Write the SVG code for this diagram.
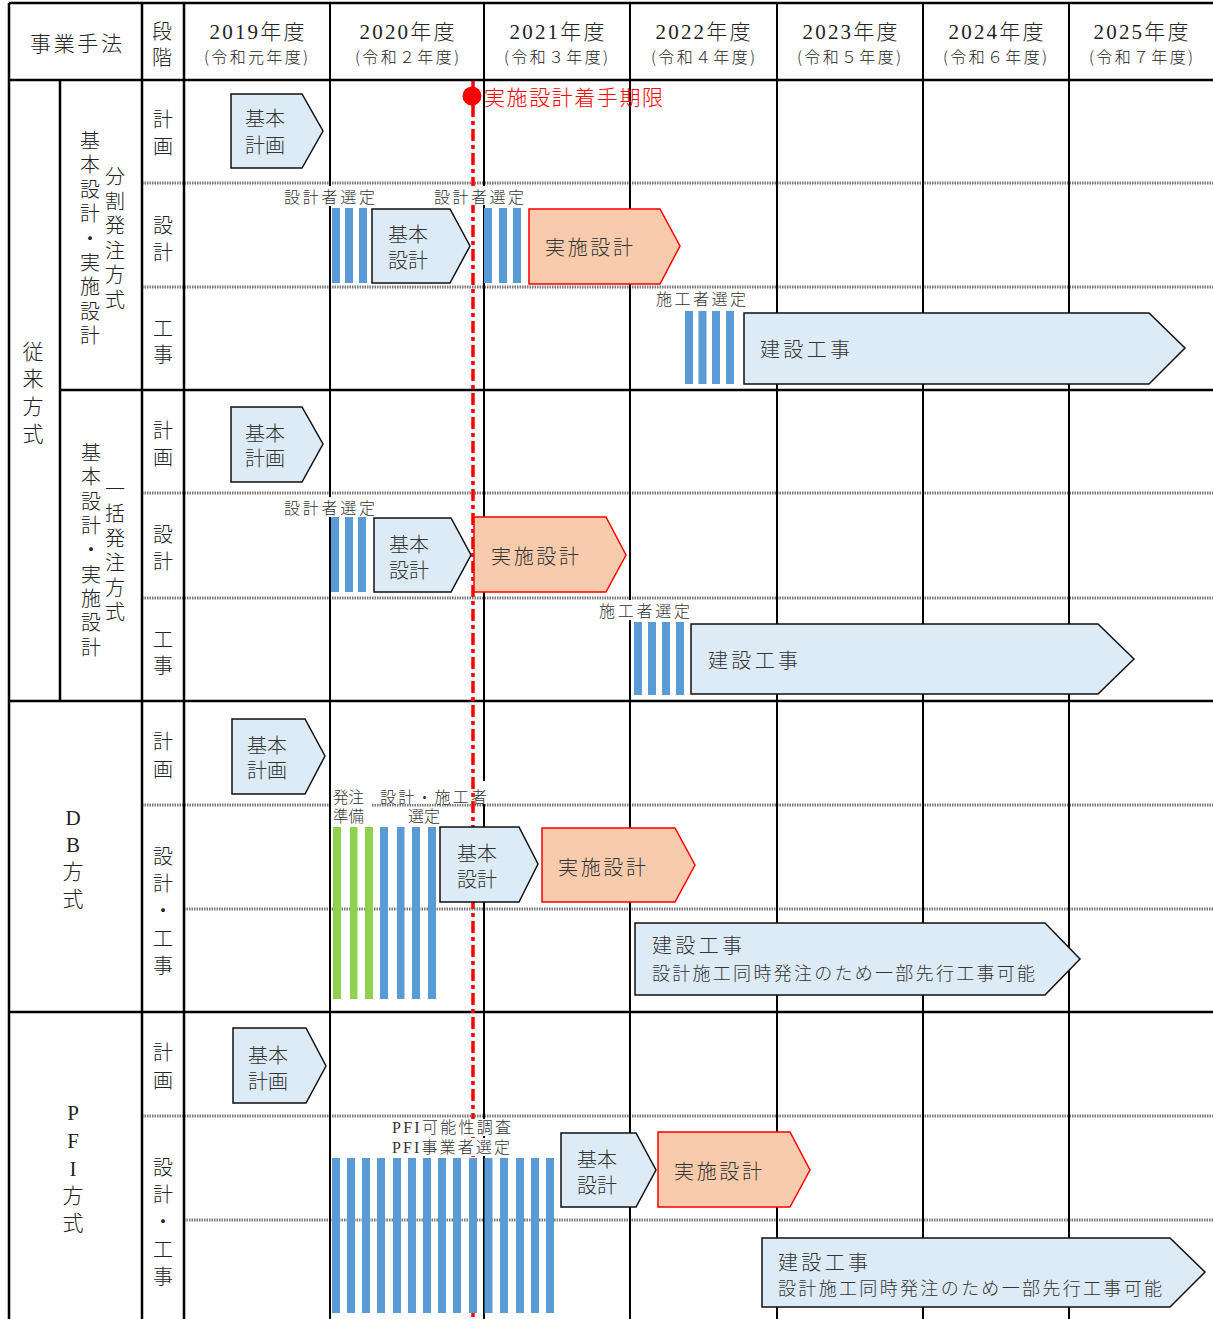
<svg xmlns="http://www.w3.org/2000/svg" width="1213" height="1319" viewBox="0 0 1213 1319">
<style>
text{font-family:"Noto Sans CJK JP","Noto Sans CJK SC",sans-serif;fill:#222;dominant-baseline:central;font-weight:300}
tspan{dominant-baseline:central}
.se{font-family:"Liberation Serif","Noto Sans CJK JP",serif}
.hy{font-size:21px;text-anchor:middle}
.hs{font-size:16px;text-anchor:middle}
.v{font-size:20px;text-anchor:middle}
.lab{font-size:16px;fill:#333}
.bt{font-size:20px;fill:#333}
.st{font-size:18px;fill:#333}
.g{stroke:#000;stroke-width:2.5;fill:none}
.gt{stroke:#000;stroke-width:2;fill:none}
.dt{stroke:#7a7a7a;stroke-width:3;stroke-dasharray:1.5 1;fill:none}
.box{fill:#DDEBF7;stroke:#111;stroke-width:1.5}
.jis{fill:#F8CBAD;stroke:#FF0000;stroke-width:1.5}
.bb{fill:#5B9BD5}
.bg{fill:#92D050}
.wb{fill:#fff}
.red{stroke:#FF0000;stroke-width:3.5;stroke-dasharray:12 4 4 4;fill:none}
</style>
<rect width="1213" height="1319" fill="#fff"/>

<g id="grid">
  <path class="dt" d="M142 183H1213M142 287H1213M142 493H1213M142 598H1213M142 805H1213M184 909H1213M142 1116H1213M184 1220H1213"/>
  <path class="gt" d="M330 3V1319M484 3V1319M630 3V1319M777 3V1319M923 3V1319M1069 3V1319"/>
  <path class="g" d="M142 3V1319M184 3V1319M60 80V701M60 390H1213M9 701H1213M9 1012H1213"/>
  <path class="g" stroke-width="3" d="M9 3V1319M9 3H1213M9 80H1213"/>
</g>

<g id="header">
  <text x="76" y="42" style="font-size:21px;text-anchor:middle" textLength="92">事業手法</text>
  <text class="v"><tspan x="162" y="30">段</tspan><tspan x="162" y="56">階</tspan></text>
  <text class="se hy" x="257" y="32" textLength="95">2019年度</text>
  <text class="se hy" x="407" y="32" textLength="95">2020年度</text>
  <text class="se hy" x="557" y="32" textLength="95">2021年度</text>
  <text class="se hy" x="703" y="32" textLength="95">2022年度</text>
  <text class="se hy" x="850" y="32" textLength="95">2023年度</text>
  <text class="se hy" x="996" y="32" textLength="95">2024年度</text>
  <text class="se hy" x="1141" y="32" textLength="95">2025年度</text>
  <text class="hs" x="256" y="56" textLength="104">(令和元年度)</text>
  <text class="hs" x="407" y="56" textLength="104">(令和２年度)</text>
  <text class="hs" x="556" y="56" textLength="104">(令和３年度)</text>
  <text class="hs" x="703" y="56" textLength="104">(令和４年度)</text>
  <text class="hs" x="849" y="56" textLength="104">(令和５年度)</text>
  <text class="hs" x="995" y="56" textLength="104">(令和６年度)</text>
  <text class="hs" x="1141" y="56" textLength="104">(令和７年度)</text>
</g>

<g id="left-labels">
  <text class="v" style="font-size:21px"><tspan x="33" y="350">従</tspan><tspan x="33" y="377">来</tspan><tspan x="33" y="405">方</tspan><tspan x="33" y="432">式</tspan></text>
  <text class="v"><tspan x="90" y="139">基</tspan><tspan x="90" y="163">本</tspan><tspan x="90" y="188">設</tspan><tspan x="90" y="212">計</tspan><tspan x="90" y="237">・</tspan><tspan x="90" y="261">実</tspan><tspan x="90" y="285">施</tspan><tspan x="90" y="310">設</tspan><tspan x="90" y="334">計</tspan></text>
  <text class="v"><tspan x="115" y="175">分</tspan><tspan x="115" y="200">割</tspan><tspan x="115" y="224">発</tspan><tspan x="115" y="249">注</tspan><tspan x="115" y="273">方</tspan><tspan x="115" y="298">式</tspan></text>
  <text class="v"><tspan x="91" y="451">基</tspan><tspan x="91" y="475">本</tspan><tspan x="91" y="500">設</tspan><tspan x="91" y="524">計</tspan><tspan x="91" y="548">・</tspan><tspan x="91" y="573">実</tspan><tspan x="91" y="597">施</tspan><tspan x="91" y="621">設</tspan><tspan x="91" y="646">計</tspan></text>
  <text class="v"><tspan x="115" y="488">一</tspan><tspan x="115" y="512">括</tspan><tspan x="115" y="537">発</tspan><tspan x="115" y="561">注</tspan><tspan x="115" y="586">方</tspan><tspan x="115" y="610">式</tspan></text>
  <text class="v se" style="font-size:21px"><tspan x="73" y="818">D</tspan><tspan x="73" y="845">B</tspan><tspan x="73" y="872">方</tspan><tspan x="73" y="899">式</tspan></text>
  <text class="v se" style="font-size:21px"><tspan x="73" y="1113">P</tspan><tspan x="73" y="1141">F</tspan><tspan x="73" y="1169">I</tspan><tspan x="73" y="1196">方</tspan><tspan x="73" y="1223">式</tspan></text>
</g>

<g id="stage-labels">
  <text class="v"><tspan x="163" y="118">計</tspan><tspan x="163" y="145">画</tspan></text>
  <text class="v"><tspan x="163" y="224">設</tspan><tspan x="163" y="251">計</tspan></text>
  <text class="v"><tspan x="163" y="327">工</tspan><tspan x="163" y="353">事</tspan></text>
  <text class="v"><tspan x="163" y="429">計</tspan><tspan x="163" y="456">画</tspan></text>
  <text class="v"><tspan x="163" y="533">設</tspan><tspan x="163" y="560">計</tspan></text>
  <text class="v"><tspan x="163" y="638">工</tspan><tspan x="163" y="664">事</tspan></text>
  <text class="v"><tspan x="163" y="740">計</tspan><tspan x="163" y="768">画</tspan></text>
  <text class="v"><tspan x="163" y="855">設</tspan><tspan x="163" y="882">計</tspan><tspan x="163" y="909">・</tspan><tspan x="163" y="937">工</tspan><tspan x="163" y="964">事</tspan></text>
  <text class="v"><tspan x="163" y="1051">計</tspan><tspan x="163" y="1079">画</tspan></text>
  <text class="v"><tspan x="163" y="1166">設</tspan><tspan x="163" y="1193">計</tspan><tspan x="163" y="1220">・</tspan><tspan x="163" y="1248">工</tspan><tspan x="163" y="1275">事</tspan></text>
</g>

<g id="selection-labels-a">
  <rect class="wb" x="283" y="186" width="94" height="20"/>
  <text class="lab" x="284" y="196" textLength="91">設計者選定</text>
  <rect class="wb" x="654" y="289" width="94" height="19"/>
  <text class="lab" x="656" y="298" textLength="90">施工者選定</text>
  <rect class="wb" x="283" y="497" width="94" height="20"/>
  <text class="lab" x="284" y="507" textLength="91">設計者選定</text>
  <rect class="wb" x="597" y="600" width="95" height="20"/>
  <text class="lab" x="599" y="610" textLength="91">施工者選定</text>
  <rect class="wb" x="331" y="781" width="41" height="45"/>
  <rect class="wb" x="373" y="781" width="114" height="23"/>
  <text class="lab" style="font-size:15.5px"><tspan x="333" y="796">発注</tspan><tspan x="333" y="815">準備</tspan></text>
  <text class="lab" x="380" y="796" textLength="107">設計・施工者</text>
  <text class="lab" x="408" y="815">選定</text>
</g>

<g id="deadline">
  <path class="red" d="M473 81V1319"/>
  <circle cx="472" cy="96" r="9.5" fill="#FF0000"/>
  <text x="484" y="96" style="font-size:21px;fill:#FF0000" textLength="179">実施設計着手期限</text>
</g>

<g id="selection-labels-b">
  <rect class="wb" x="432" y="186" width="94" height="19"/>
  <text class="lab" x="434" y="196" textLength="90">設計者選定</text>
  <rect class="wb" x="390" y="1119" width="123" height="17"/>
  <rect class="wb" x="390" y="1138" width="122" height="18"/>
  <text class="lab se" x="392" y="1127" textLength="119">PFI可能性調査</text>
  <text class="lab se" x="392" y="1147" textLength="118">PFI事業者選定</text>
</g>

<g id="bars">
  <rect class="bb" x="332" y="208" width="8" height="75"/>
  <rect class="bb" x="345" y="208" width="8" height="75"/>
  <rect class="bb" x="359" y="208" width="8" height="75"/>
  <rect class="bb" x="484" y="208" width="8" height="75"/>
  <rect class="bb" x="499" y="208" width="8" height="75"/>
  <rect class="bb" x="513" y="208" width="8" height="75"/>
  <rect class="bb" x="685" y="311" width="8" height="73"/>
  <rect class="bb" x="698.5" y="311" width="8" height="73"/>
  <rect class="bb" x="712" y="311" width="8" height="73"/>
  <rect class="bb" x="726" y="311" width="8" height="73"/>
  <rect class="bb" x="331" y="517" width="8" height="75"/>
  <rect class="bb" x="345" y="517" width="8" height="75"/>
  <rect class="bb" x="358" y="517" width="8" height="75"/>
  <rect class="bb" x="634" y="622" width="8" height="73"/>
  <rect class="bb" x="648" y="622" width="8" height="73"/>
  <rect class="bb" x="662" y="622" width="8" height="73"/>
  <rect class="bb" x="676" y="622" width="8" height="73"/>
  <rect class="bg" x="333" y="827" width="8" height="172"/>
  <rect class="bg" x="350" y="827" width="7.5" height="172"/>
  <rect class="bg" x="365" y="827" width="8" height="172"/>
  <rect class="bb" x="380" y="827" width="8" height="172"/>
  <rect class="bb" x="397" y="827" width="7.5" height="172"/>
  <rect class="bb" x="412" y="827" width="8" height="172"/>
  <rect class="bb" x="428" y="827" width="8" height="172"/>
  <rect class="bb" x="332" y="1158" width="8" height="155"/>
  <rect class="bb" x="347" y="1158" width="8" height="155"/>
  <rect class="bb" x="362" y="1158" width="8" height="155"/>
  <rect class="bb" x="377" y="1158" width="8" height="155"/>
  <rect class="bb" x="393" y="1158" width="8" height="155"/>
  <rect class="bb" x="408" y="1158" width="8" height="155"/>
  <rect class="bb" x="423" y="1158" width="8" height="155"/>
  <rect class="bb" x="438" y="1158" width="8" height="155"/>
  <rect class="bb" x="453" y="1158" width="8" height="155"/>
  <rect class="bb" x="469" y="1158" width="8" height="155"/>
  <rect class="bb" x="484.5" y="1158" width="8" height="155"/>
  <rect class="bb" x="500" y="1158" width="8" height="155"/>
  <rect class="bb" x="516" y="1158" width="8" height="155"/>
  <rect class="bb" x="531" y="1158" width="8" height="155"/>
  <rect class="bb" x="546" y="1158" width="8" height="155"/>
</g>

<g id="bunkatsu-keikaku">
  <polygon class="box" points="231,94 302,94 323,131 302,168 231,168"/>
  <text class="bt"><tspan x="245" y="117">基本</tspan><tspan x="245" y="144">計画</tspan></text>
</g>
<g id="bunkatsu-kihon">
  <polygon class="box" points="372,209 450,209 470,246 450,283 372,283"/>
  <text class="bt"><tspan x="388" y="233">基本</tspan><tspan x="388" y="259">設計</tspan></text>
</g>
<g id="bunkatsu-jisshi">
  <polygon class="jis" points="529,209 660,209 680,246 660,284 529,284"/>
  <text class="bt" x="545" y="246" textLength="88">実施設計</text>
</g>
<g id="bunkatsu-kensetsu">
  <polygon class="box" points="744,313 1149,313 1185,348 1149,384 744,384"/>
  <text class="bt" x="760" y="348" textLength="90">建設工事</text>
</g>

<g id="ikkatsu-keikaku">
  <polygon class="box" points="231,407 302,407 323,444 302,482 231,482"/>
  <text class="bt"><tspan x="245" y="432">基本</tspan><tspan x="245" y="457">計画</tspan></text>
</g>
<g id="ikkatsu-kihon">
  <polygon class="box" points="374,518 451,518 471,555 451,592 374,592"/>
  <text class="bt"><tspan x="389" y="543">基本</tspan><tspan x="389" y="569">設計</tspan></text>
</g>
<g id="ikkatsu-jisshi">
  <polygon class="jis" points="474,517 606,517 626,555 606,592 474,592"/>
  <text class="bt" x="491" y="555" textLength="88">実施設計</text>
</g>
<g id="ikkatsu-kensetsu">
  <polygon class="box" points="691,624 1098,624 1134,659 1098,694 691,694"/>
  <text class="bt" x="708" y="659" textLength="90">建設工事</text>
</g>

<g id="db-keikaku">
  <polygon class="box" points="232,719 305,719 325,756 305,794 232,794"/>
  <text class="bt"><tspan x="247" y="744">基本</tspan><tspan x="247" y="769">計画</tspan></text>
</g>
<g id="db-kihon">
  <polygon class="box" points="440,827 519,827 538,864 519,902 440,902"/>
  <text class="bt"><tspan x="457" y="852">基本</tspan><tspan x="457" y="878">設計</tspan></text>
</g>
<g id="db-jisshi">
  <polygon class="jis" points="542,828 675,828 695,865 675,902 542,902"/>
  <text class="bt" x="558" y="866" textLength="88">実施設計</text>
</g>
<g id="db-kensetsu">
  <polygon class="box" points="635,923 1045,923 1080,959 1045,995 635,995"/>
  <text class="bt" x="652" y="944" textLength="90">建設工事</text>
  <text class="st" x="652" y="972" textLength="383">設計施工同時発注のため一部先行工事可能</text>
</g>

<g id="pfi-keikaku">
  <polygon class="box" points="233,1028 306,1028 326,1066 306,1103 233,1103"/>
  <text class="bt"><tspan x="248" y="1054">基本</tspan><tspan x="248" y="1080">計画</tspan></text>
</g>
<g id="pfi-kihon">
  <polygon class="box" points="561,1133 636,1133 656,1170 636,1207 561,1207"/>
  <text class="bt"><tspan x="577" y="1158">基本</tspan><tspan x="577" y="1184">設計</tspan></text>
</g>
<g id="pfi-jisshi">
  <polygon class="jis" points="658,1132 790,1132 810,1170 790,1207 658,1207"/>
  <text class="bt" x="674" y="1170" textLength="88">実施設計</text>
</g>
<g id="pfi-kensetsu">
  <polygon class="box" points="762,1238 1170,1238 1205,1272 1170,1307 762,1307"/>
  <text class="bt" x="778" y="1261" textLength="90">建設工事</text>
  <text class="st" x="778" y="1287" textLength="384">設計施工同時発注のため一部先行工事可能</text>
</g>
</svg>
